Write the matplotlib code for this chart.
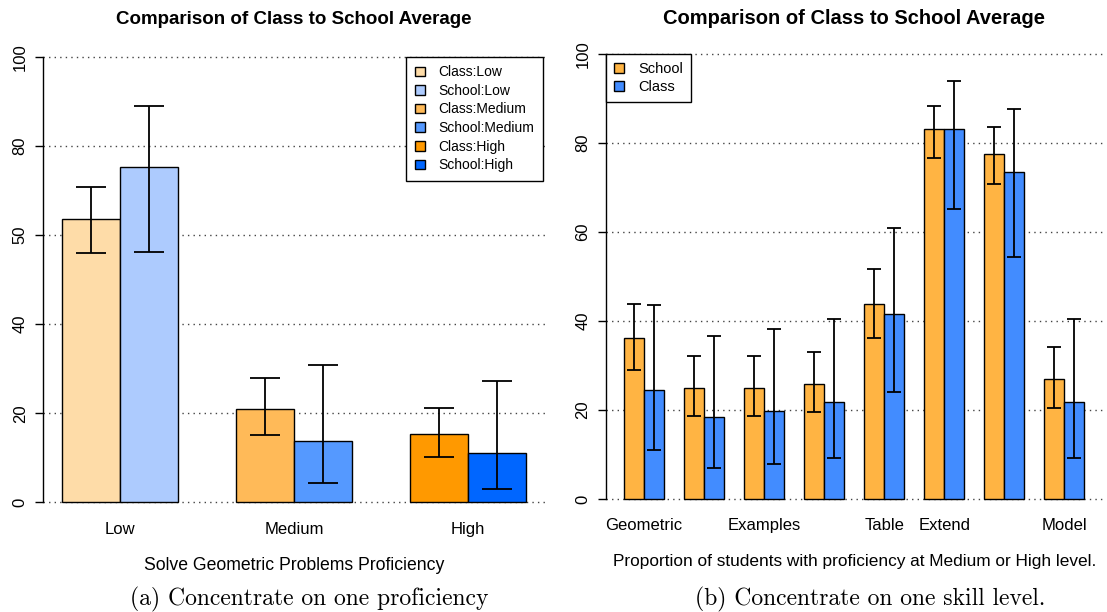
import numpy as np
import matplotlib
matplotlib.use("Agg")
import matplotlib.pyplot as plt
from matplotlib.patches import Patch

plt.rcParams['font.family'] = ['Liberation Sans', 'DejaVu Sans']

# --- panel (a): one proficiency, class vs school by level ---
levels = ['Low', 'Medium', 'High']
class_mean = [63.7, 20.9, 15.3]
class_lo = [56.0, 15.1, 10.1]
class_hi = [70.9, 27.9, 21.3]
school_mean = [75.3, 13.7, 11.0]
school_lo = [56.3, 4.3, 2.9]
school_hi = [88.9, 30.8, 27.2]
class_colors = ['#FEDCA8', '#FFBA58', '#FF9900']
school_colors = ['#ADCBFE', '#5599FF', '#0066FF']
ytick_vals_a = [0, 20, 40, 60, 80, 100]
ytick_text_a = ['0', '20', '40', '50', '80', '100']

# --- panel (b): one skill level, school vs class by skill ---
skills = ['Geometric', '', 'Examples', '', 'Table', 'Extend', '', 'Model']
sch_mean = [36.2, 25.0, 25.0, 25.9, 43.9, 83.1, 77.6, 26.9]
sch_lo = [29.0, 18.7, 18.7, 19.6, 36.3, 76.6, 70.7, 20.4]
sch_hi = [43.9, 32.2, 32.2, 33.1, 51.8, 88.4, 83.7, 34.2]
cls_mean = [24.6, 18.5, 19.8, 21.7, 41.5, 83.1, 73.6, 21.7]
cls_lo = [11.0, 7.0, 7.9, 9.1, 24.0, 65.2, 54.4, 9.2]
cls_hi = [43.6, 36.7, 38.3, 40.5, 60.9, 93.9, 87.7, 40.5]
sch_color = '#FFB443'
cls_color = '#428CFF'

title = 'Comparison of Class to School Average'


def style_axes(ax, n_groups, yticks, yticklabels):
    pad = 0.04 * (3 * n_groups - 1)
    ax.set_xlim(1 - pad, 3 * n_groups + pad)
    ax.set_ylim(-4, 104)
    for s in ['top', 'right', 'bottom']:
        ax.spines[s].set_visible(False)
    ax.spines['left'].set_bounds(0, 100)
    ax.spines['left'].set_linewidth(1.0)
    ax.set_yticks(yticks)
    ax.set_yticklabels(yticklabels, rotation=90, va='center', fontsize=12)
    ax.tick_params(axis='y', length=6, width=1.0, pad=5)
    ax.tick_params(axis='x', length=0, pad=1, labelsize=12)
    for v in yticks:
        ax.axhline(v, color='#444444', lw=1.0, ls=(0, (1, 3)), zorder=0)


def group_errbars(ax, x, mean, lo, hi, cap):
    mean = np.asarray(mean)
    err = [mean - np.asarray(lo), np.asarray(hi) - mean]
    ax.errorbar(x, mean, yerr=err, fmt='none', ecolor='black',
                elinewidth=1.3, capsize=cap, capthick=1.3, zorder=3)


fig = plt.figure(figsize=(11.07, 6.12), dpi=100)
ax1 = fig.add_axes([0.0388, 0.150, 0.4535, 0.786])
ax2 = fig.add_axes([0.547, 0.1556, 0.4493, 0.785])

# panel (a)
g = np.arange(len(levels))
xc = 3 * g + 1.5
xs = 3 * g + 2.5
ax1.bar(xc, class_mean, width=1, color=class_colors, edgecolor='black', lw=1, zorder=2)
ax1.bar(xs, school_mean, width=1, color=school_colors, edgecolor='black', lw=1, zorder=2)
group_errbars(ax1, xc, class_mean, class_lo, class_hi, 11)
group_errbars(ax1, xs, school_mean, school_lo, school_hi, 11)
style_axes(ax1, len(levels), ytick_vals_a, ytick_text_a)
ax1.set_xticks(3 * g + 2)
ax1.set_xticklabels(levels)
ax1.set_xlabel('Solve Geometric Problems Proficiency', fontsize=12.7, labelpad=15)
ax1.set_title(title, fontsize=13.5, fontweight='bold', pad=11)

handles = []
for i, lv in enumerate(levels):
    handles.append(Patch(facecolor=class_colors[i], edgecolor='black', label='Class:' + lv))
    handles.append(Patch(facecolor=school_colors[i], edgecolor='black', label='School:' + lv))
ax1.legend(handles=handles, loc='upper right', bbox_to_anchor=(9.28, 100),
           bbox_transform=ax1.transData, fontsize=10, frameon=True, fancybox=False,
           edgecolor='black', framealpha=1, handlelength=0.7, handleheight=0.7,
           labelspacing=0.33, borderpad=0.6, handletextpad=1.0, borderaxespad=0)
ax1.get_legend().get_frame().set_linewidth(1.0)

# panel (b)
g2 = np.arange(len(skills))
xs2 = 3 * g2 + 1.5
xc2 = 3 * g2 + 2.5
ax2.bar(xs2, sch_mean, width=1, color=sch_color, edgecolor='black', lw=1, zorder=2)
ax2.bar(xc2, cls_mean, width=1, color=cls_color, edgecolor='black', lw=1, zorder=2)
group_errbars(ax2, xs2, sch_mean, sch_lo, sch_hi, 5)
group_errbars(ax2, xc2, cls_mean, cls_lo, cls_hi, 5)
style_axes(ax2, len(skills), [0, 20, 40, 60, 80, 100], ['0', '20', '40', '60', '80', '100'])
ax2.set_xticks(3 * g2 + 2)
ax2.set_xticklabels(skills)
ax2.set_xlabel('Proportion of students with proficiency at Medium or High level.',
               fontsize=12.4, labelpad=15)
ax2.set_title(title, fontsize=14.5, fontweight='bold', pad=9)
h2 = [Patch(facecolor=sch_color, edgecolor='black', label='School'),
      Patch(facecolor=cls_color, edgecolor='black', label='Class')]
ax2.legend(handles=h2, loc='upper left', bbox_to_anchor=(1 - 0.92, 100),
           bbox_transform=ax2.transData, fontsize=10.5, frameon=True, fancybox=False,
           edgecolor='black', framealpha=1, handlelength=0.7, handleheight=0.7,
           labelspacing=0.25, borderpad=0.55, handletextpad=1.0, borderaxespad=0)
ax2.get_legend().get_frame().set_linewidth(1.0)

# sub-figure captions
fig.text(0.279, 0.011, '(a) Concentrate on one proficiency', family='cmr10',
         fontsize=17, ha='center', va='baseline')
fig.text(0.786, 0.011, '(b) Concentrate on one skill level.', family='cmr10',
         fontsize=17, ha='center', va='baseline')

fig.savefig('out.png', dpi=100)
